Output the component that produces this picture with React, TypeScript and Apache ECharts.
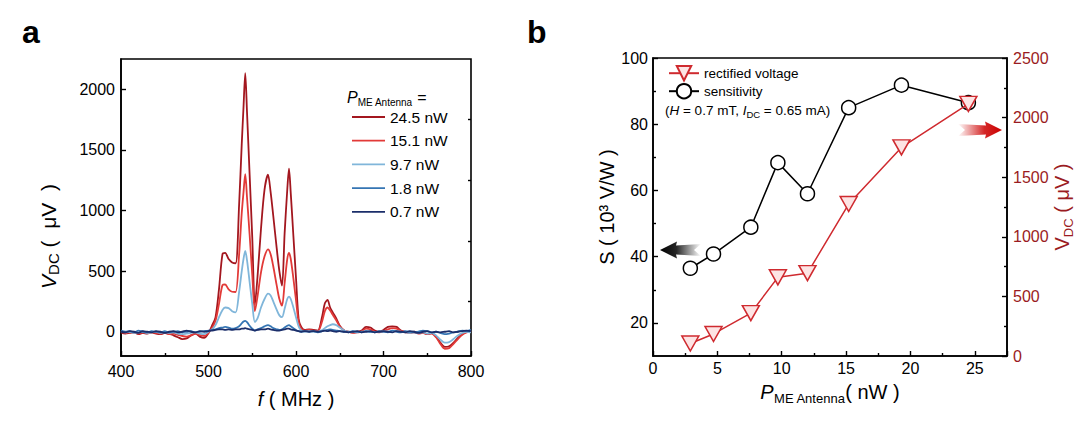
import React, { useEffect, useRef } from "react";
import * as echarts from "echarts";

const FONT = '"Liberation Sans", Arial, Helvetica, sans-serif';

// ---------- Panel a : V_DC spectra ----------
const freqMHz = [
  400, 405, 410, 415, 420, 425, 430, 435, 440, 445, 450, 455, 460, 465, 470, 475, 480, 485, 490, 495, 500,
  504, 508, 512, 516, 519, 523, 527, 531, 535, 538, 540, 542, 544, 547, 550, 553, 556, 560, 564, 568, 571, 574, 578, 581, 584, 587, 590, 592, 594, 597, 600, 603, 606, 610,
  615, 620, 625, 630, 633, 636, 639, 642, 646, 650, 655, 660,
  665, 670, 675, 680, 685, 690, 695, 700, 705, 710, 715, 720, 725, 730, 735, 740, 745, 750, 755, 760, 765, 770, 775, 780, 785, 790, 795, 800,
];

const v24_5 = [
  -5, -15, -10, -5, -20, -10, -15, -5, -15, -20, -10, -15, -30, -45, -60, -55, -30, -15, -40, -50, -10,
  50, 118, 352, 641, 650, 600, 572, 565, 1050, 1550, 1850, 2134, 1813, 1296, 780, 220, 452, 850, 1170, 1295, 1152, 957, 685, 500, 380, 812, 1169, 1345, 1144, 792, 443, 105, 40, 15,
  20, 15, 10, 130, 235, 262, 200, 160, 110, 50, 10, 0,
  -5, 0, 10, 40, 35, 10, 0, 15, 40, 45, 40, 10, 0, -10, 0, -10, -5, -20, -10, -40, -90, -125, -120, -90, -50, -20, 0, 10,
];
const v15_1 = [
  0, -10, -5, -10, -15, -5, -10, -5, -10, -15, -10, -20, -15, -25, -35, -40, -30, -15, -25, -35, -10,
  30, 90, 230, 385, 390, 350, 330, 328, 640, 980, 1150, 1300, 1110, 800, 470, 170, 290, 490, 620, 680, 640, 540, 380, 270, 215, 400, 600, 650, 600, 440, 260, 80, 25, 10,
  15, 10, 5, 90, 170, 200, 175, 140, 95, 45, 10, 0,
  -10, -5, 0, 25, 20, 0, -5, 5, 20, 30, 25, 5, -5, -10, -5, -15, -10, -20, -15, -45, -100, -140, -135, -100, -60, -25, -5, 5,
];
const v9_7 = [
  5, -5, 0, -10, -5, 0, -10, -5, 0, -10, -5, -10, -5, -15, -20, -15, -10, -5, -15, -20, 0,
  20, 55, 120, 180, 200, 195, 170, 160, 330, 500, 600, 668, 590, 410, 230, 80, 110, 200, 270, 315, 300, 250, 180, 135, 120, 190, 270, 290, 270, 200, 120, 45, 10, 0,
  5, 0, 0, 15, 30, 45, 55, 62, 55, 35, 10, 0,
  0, -5, 0, 5, 0, -5, 0, 5, 0, 10, 5, 0, -5, -10, -5, -10, -5, -15, -10, -30, -65, -90, -85, -60, -30, -10, 0, -5,
];
const v1_8 = [
  10, 0, 5, -5, 10, 0, -5, 5, 0, -5, 5, -5, 0, 5, -5, 0, 5, -5, 0, 5, 10,
  15, 20, 30, 35, 40, 35, 25, 30, 45, 70, 85, 90, 80, 50, 25, 10, 20, 30, 45, 55, 45, 30, 20, 15, 20, 35, 50, 55, 45, 30, 15, 5, 0, 5,
  0, 5, -5, 5, 10, 15, 20, 15, 10, 5, 0, -5,
  5, 0, -5, 5, 0, -5, 5, 0, -5, 10, 0, -5, 5, 0, -5, 0, 10, 5, -5, 0, -10, -20, -15, -5, 0, 10, 5, 15,
];
const v0_7 = [
  0, -5, 5, 0, -10, 5, 0, -5, 5, 0, -10, 0, 5, -5, 0, 10, 0, -5, 5, 0, 5,
  10, 15, 20, 20, 15, 20, 15, 20, 20, 25, 25, 30, 25, 20, 15, 10, 15, 20, 20, 25, 20, 15, 10, 10, 15, 20, 25, 25, 20, 15, 10, 5, 0, 5,
  0, 5, 0, 5, 10, 5, 10, 5, 0, 5, 0, -5,
  0, 5, -5, 0, 5, -5, 0, 5, 0, -5, 5, 0, -5, 5, 0, -10, 0, 5, -5, 0, -5, 0, 5, -5, 0, 5, 10, 5,
];

const spectraNames = ["24.5 nW", "15.1 nW", "9.7 nW", "1.8 nW", "0.7 nW"];
const spectraValues = [v24_5, v15_1, v9_7, v1_8, v0_7];
const spectraColors = ["#a3171f", "#e23a38", "#80b6da", "#3575b3", "#1b2e6a"];

const aYLabels = [0, 500, 1000, 1500, 2000];
const aYMinor = [250, 750, 1250, 1750];

// ---------- Panel b : sensitivity & rectified voltage ----------
const powerNW = [2.9, 4.7, 7.6, 9.7, 12.0, 15.2, 19.3, 24.5];
const sensitivity = [36.5, 40.8, 48.9, 68.4, 59.0, 85.0, 91.8, 86.5];
const rectifiedUV = [105, 185, 360, 660, 695, 1275, 1750, 2115];

const bSLabels = [20, 40, 60, 80, 100];
const bSMinor = [30, 50, 70, 90];

const RED = "#cf2a2f";
const DARKRED = "#9a1b22";

const axisLineStyle = { color: "#000", width: 1.6 };
const tickStyle = { color: "#000", width: 1.4 };
const plain = (v: number) => String(v);

function buildOption(): any {
  const richMain = (size: number, color = "#000") => ({
    it: { fontStyle: "italic", fontSize: size, lineHeight: 26, fontFamily: FONT, color },
    n: { fontSize: size, lineHeight: 26, fontFamily: FONT, color },
  });

  const spectraSeries = spectraNames.map((name, k) => ({
    name,
    type: "line",
    xAxisIndex: 0,
    yAxisIndex: 0,
    data: freqMHz.map((f, i) => [f, spectraValues[k][i]]),
    symbol: "none",
    showSymbol: false,
    smooth: 0.3,
    lineStyle: { width: 1.8, color: spectraColors[k] },
    itemStyle: { color: spectraColors[k] },
    z: 2 + k,
  }));

  return {
    animation: false,
    textStyle: { fontFamily: FONT },
    grid: [
      { left: 121, top: 59, width: 350, height: 297, show: true, borderColor: "#000", borderWidth: 1.6, outerBoundsMode: "none" },
      { left: 653, top: 58, width: 354, height: 298, show: true, borderColor: "#000", borderWidth: 1.6, outerBoundsMode: "none" },
    ],
    xAxis: [
      {
        gridIndex: 0,
        type: "value",
        min: 400,
        max: 800,
        interval: 100,
        axisLine: { show: true, onZero: false, lineStyle: axisLineStyle },
        axisTick: { show: true, inside: true, length: 5, lineStyle: tickStyle },
        minorTick: { show: true, splitNumber: 2, length: 3, lineStyle: tickStyle },
        axisLabel: { fontSize: 16, color: "#000", margin: 7, fontFamily: FONT, formatter: plain },
        splitLine: { show: false },
        name: "{it|f}{n| ( MHz )}",
        nameLocation: "middle",
        nameGap: 30,
        nameTextStyle: { rich: richMain(20) },
      },
      {
        gridIndex: 1,
        type: "value",
        min: 0,
        max: 27.5,
        interval: 5,
        axisLine: { show: true, onZero: false, lineStyle: axisLineStyle },
        axisTick: { show: true, inside: true, length: 5, lineStyle: tickStyle },
        minorTick: { show: true, splitNumber: 2, length: 3, lineStyle: tickStyle },
        axisLabel: {
          fontSize: 16,
          color: "#000",
          margin: 4,
          fontFamily: FONT,
          formatter: (v: number) => (v % 5 === 0 ? String(v) : ""),
        },
        splitLine: { show: false },
        name: "{it|P}{sub|ME Antenna}{n|( nW )}",
        nameLocation: "middle",
        nameGap: 23,
        nameTextStyle: {
          rich: {
            ...richMain(20),
            sub: { fontSize: 13, lineHeight: 14, verticalAlign: "bottom", fontFamily: FONT, color: "#000" },
          },
        },
      },
    ],
    yAxis: [
      {
        gridIndex: 0,
        type: "value",
        min: -200,
        max: 2250,
        axisLine: { show: true, onZero: false, lineStyle: axisLineStyle },
        axisTick: { show: true, inside: true, length: 5, lineStyle: tickStyle, customValues: aYLabels },
        axisLabel: { fontSize: 16, color: "#000", margin: 6, fontFamily: FONT, customValues: aYLabels, formatter: plain },
        splitLine: { show: false },
        name: "{it|V}{sub|DC}{n| (  μV  )}",
        nameLocation: "middle",
        nameRotate: 90,
        nameGap: 60,
        nameTextStyle: {
          padding: [0, 58, 0, 0],
          rich: {
            ...richMain(21),
            sub: { fontSize: 15, lineHeight: 14, verticalAlign: "bottom", fontFamily: FONT, color: "#000" },
          },
        },
      },
      {
        gridIndex: 0,
        type: "value",
        min: -200,
        max: 2250,
        axisLine: { show: false },
        axisTick: { show: true, inside: true, length: 3, lineStyle: tickStyle, customValues: aYMinor },
        axisLabel: { show: false },
        splitLine: { show: false },
      },
      {
        gridIndex: 1,
        type: "value",
        position: "left",
        min: 10,
        max: 100,
        axisLine: { show: true, onZero: false, lineStyle: axisLineStyle },
        axisTick: { show: true, inside: true, length: 5, lineStyle: tickStyle, customValues: bSLabels },
        axisLabel: { fontSize: 16, color: "#000", margin: 5, fontFamily: FONT, customValues: bSLabels, formatter: plain },
        splitLine: { show: false },
        name: "{n|S ( 10³ V/W )}",
        nameLocation: "middle",
        nameRotate: 90,
        nameGap: 27,
        nameTextStyle: { rich: richMain(20) },
      },
      {
        gridIndex: 1,
        type: "value",
        position: "left",
        min: 10,
        max: 100,
        axisLine: { show: false },
        axisTick: { show: true, inside: true, length: 3, lineStyle: tickStyle, customValues: bSMinor },
        axisLabel: { show: false },
        splitLine: { show: false },
      },
      {
        gridIndex: 1,
        type: "value",
        position: "right",
        min: 0,
        max: 2500,
        interval: 500,
        axisLine: { show: true, onZero: false, lineStyle: axisLineStyle },
        axisTick: { show: true, inside: true, length: 5, lineStyle: tickStyle },
        minorTick: { show: true, splitNumber: 2, length: 3, lineStyle: tickStyle },
        axisLabel: { fontSize: 16, color: DARKRED, margin: 6, fontFamily: FONT, formatter: plain },
        splitLine: { show: false },
        name: "{n|V}{sub|DC}{n| ( μV )}",
        nameLocation: "middle",
        nameRotate: 90,
        nameGap: 42,
        nameTextStyle: {
          rich: {
            ...richMain(20, DARKRED),
            sub: { fontSize: 13, lineHeight: 14, verticalAlign: "bottom", fontFamily: FONT, color: DARKRED },
          },
        },
      },
    ],
    legend: [
      {
        data: spectraNames,
        orient: "vertical",
        left: 347,
        top: 104,
        itemWidth: 33,
        itemHeight: 14,
        itemGap: 7.7,
        icon: "path://M0,0L100,0L100,5.5L0,5.5Z",
        selectedMode: false,
        textStyle: { fontSize: 15.5, lineHeight: 14, color: "#000", fontFamily: FONT },
      },
      {
        data: ["rectified voltage", "sensitivity"],
        orient: "vertical",
        left: 663,
        top: 60,
        itemWidth: 30,
        itemHeight: 18,
        itemGap: 1.6,
        selectedMode: false,
        textStyle: { fontSize: 13.5, color: "#000", fontFamily: FONT },
      },
    ],
    series: [
      ...spectraSeries,
      {
        name: "sensitivity",
        type: "line",
        xAxisIndex: 1,
        yAxisIndex: 2,
        data: powerNW.map((p, i) => [p, sensitivity[i]]),
        symbol: "circle",
        symbolSize: 14,
        showSymbol: true,
        lineStyle: { color: "#000", width: 1.5 },
        itemStyle: { color: "#ffffff", borderColor: "#000", borderWidth: 1.5 },
        z: 10,
      },
      {
        name: "rectified voltage",
        type: "line",
        xAxisIndex: 1,
        yAxisIndex: 4,
        data: powerNW.map((p, i) => [p, rectifiedUV[i]]),
        symbol: "path://M0,0L20,0L10,17Z",
        symbolSize: [17, 15],
        showSymbol: true,
        lineStyle: { color: RED, width: 1.5 },
        itemStyle: { color: "#fde4e4", borderColor: RED, borderWidth: 1.5 },
        z: 11,
      },
    ],
    graphic: [
      {
        type: "text",
        x: 22,
        y: 32,
        silent: true,
        style: { text: "a", fontSize: 32, fontWeight: "bold", fontFamily: FONT, fill: "#000", verticalAlign: "middle" },
      },
      {
        type: "text",
        x: 527,
        y: 32,
        silent: true,
        style: { text: "b", fontSize: 32, fontWeight: "bold", fontFamily: FONT, fill: "#000", verticalAlign: "middle" },
      },
      {
        type: "text",
        x: 347,
        y: 97,
        silent: true,
        style: {
          text: "{it|P}{sub|ME Antenna}{n| =}",
          verticalAlign: "middle",
          rich: {
            it: { fontStyle: "italic", fontSize: 16, lineHeight: 20, fontFamily: FONT, fill: "#000" },
            sub: { fontSize: 10, lineHeight: 9, verticalAlign: "bottom", fontFamily: FONT, fill: "#000" },
            n: { fontSize: 16, lineHeight: 20, fontFamily: FONT, fill: "#000" },
          },
        },
      },
      {
        type: "text",
        x: 665,
        y: 110,
        silent: true,
        style: {
          text: "{n|(}{it|H}{n| = 0.7 mT, }{it|I}{sub|DC}{n| = 0.65 mA)}",
          verticalAlign: "middle",
          rich: {
            it: { fontStyle: "italic", fontSize: 13.5, lineHeight: 18, fontFamily: FONT, fill: "#000" },
            sub: { fontSize: 9.5, lineHeight: 8, verticalAlign: "bottom", fontFamily: FONT, fill: "#000" },
            n: { fontSize: 13.5, lineHeight: 18, fontFamily: FONT, fill: "#000" },
          },
        },
      },
      {
        type: "polygon",
        silent: true,
        shape: {
          points: [
            [660, 250], [677, 241.5], [676, 245.5], [701, 244], [694, 250], [701, 256], [676, 254.5], [677, 258.5],
          ],
        },
        style: {
          fill: new echarts.graphic.LinearGradient(0, 0, 1, 0, [
            { offset: 0, color: "rgba(0,0,0,1)" },
            { offset: 0.4, color: "rgba(0,0,0,0.85)" },
            { offset: 1, color: "rgba(0,0,0,0)" },
          ]),
        },
      },
      {
        type: "polygon",
        silent: true,
        shape: {
          points: [
            [1002, 130], [985, 121.5], [986, 125.5], [958, 124], [965, 130], [958, 136], [986, 134.5], [985, 138.5],
          ],
        },
        style: {
          fill: new echarts.graphic.LinearGradient(0, 0, 1, 0, [
            { offset: 0, color: "rgba(204,0,0,0)" },
            { offset: 0.6, color: "rgba(204,0,0,0.85)" },
            { offset: 1, color: "rgba(204,0,0,1)" },
          ]),
        },
      },
    ],
  };
}

export default function App() {
  const ref = useRef<HTMLDivElement>(null);
  useEffect(() => {
    document.body.style.margin = "0";
    if (!ref.current) return;
    const chart = echarts.init(ref.current, null, { renderer: "svg" });
    chart.setOption(buildOption());
    return () => {
      chart.dispose();
    };
  }, []);
  return <div ref={ref} style={{ width: 1080, height: 427 }} />;
}
